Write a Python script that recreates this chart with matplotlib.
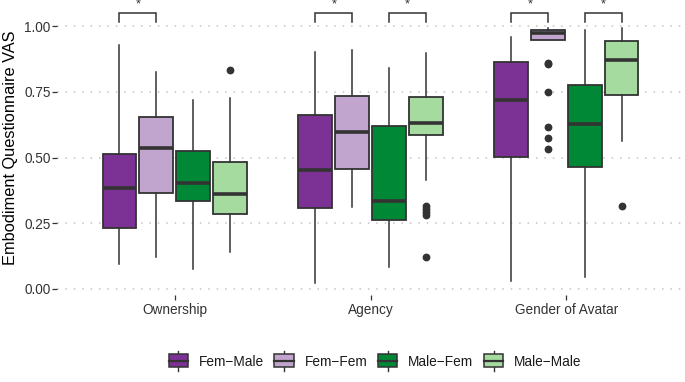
import matplotlib
matplotlib.use("Agg")
import matplotlib.pyplot as plt
from matplotlib.patches import Patch, Rectangle
from matplotlib.lines import Line2D
from matplotlib.legend_handler import HandlerBase

plt.rcParams['font.family'] = ['Liberation Sans', 'DejaVu Sans']

categories = ["Ownership", "Agency", "Gender of Avatar"]
conditions = ["Fem\u2212Male", "Fem\u2212Fem", "Male\u2212Fem", "Male\u2212Male"]
colors = ["#7B3294", "#C2A5CF", "#008837", "#A6DBA0"]

# rows: categories, cols: conditions
whisker_low = [[0.094, 0.123, 0.075, 0.142],
               [0.022, 0.313, 0.082, 0.413],
               [0.030, 0.947, 0.047, 0.564]]
q1 = [[0.233, 0.365, 0.333, 0.284],
      [0.307, 0.455, 0.262, 0.587],
      [0.503, 0.947, 0.463, 0.739]]
median = [[0.385, 0.537, 0.402, 0.360],
          [0.454, 0.597, 0.335, 0.632],
          [0.719, 0.976, 0.627, 0.873]]
q3 = [[0.513, 0.655, 0.526, 0.484],
      [0.662, 0.735, 0.620, 0.731],
      [0.863, 0.984, 0.775, 0.943]]
whisker_high = [[0.929, 0.825, 0.719, 0.727],
                [0.902, 0.909, 0.842, 0.899],
                [0.959, 0.993, 0.985, 0.993]]
outliers = [[[], [], [], [0.835]],
            [[], [], [], [0.317, 0.305, 0.293, 0.280, 0.123]],
            [[], [0.862, 0.855, 0.749, 0.616, 0.575, 0.531], [], [0.316]]]

# significance brackets: (category index, condition a, condition b, label)
sig_cat = [0, 1, 1, 2, 2]
sig_a = [0, 0, 2, 0, 2]
sig_b = [1, 1, 3, 1, 3]
sig_label = ["*", "*", "*", "*", "*"]

yticks = [0.00, 0.25, 0.50, 0.75, 1.00]
ytick_labels = ["0.00", "0.25", "0.50", "0.75", "1.00"]

W, H = 685, 382
fig = plt.figure(figsize=(W / 100, H / 100), dpi=100)
ax = fig.add_axes([57 / W, 1 - 295 / H, (684 - 57) / W, 295 / H])

edge = "#333333"
dodge = 0.1875
box_w = 0.173

for ci, cat in enumerate(categories):
    for k in range(len(conditions)):
        pos = ci + 1 + (k - 1.5) * dodge
        stats = [dict(whislo=whisker_low[ci][k], q1=q1[ci][k], med=median[ci][k],
                      q3=q3[ci][k], whishi=whisker_high[ci][k],
                      fliers=outliers[ci][k])]
        ax.bxp(stats, positions=[pos], widths=box_w, patch_artist=True,
               showcaps=False,
               boxprops=dict(facecolor=colors[k], edgecolor=edge, linewidth=1.3),
               whiskerprops=dict(color=edge, linewidth=1.1),
               medianprops=dict(color=edge, linewidth=2.6, solid_capstyle='butt'),
               flierprops=dict(marker='o', markersize=4.6, markerfacecolor=edge,
                               markeredgecolor=edge, linestyle='none'),
               zorder=3)

# significance brackets
y_bar, y_tick = 1.049, 1.018
for c, a, b, lab in zip(sig_cat, sig_a, sig_b, sig_label):
    xa = c + 1 + (a - 1.5) * dodge
    xb = c + 1 + (b - 1.5) * dodge
    ax.plot([xa, xa, xb, xb], [y_tick, y_bar, y_bar, y_tick], color=edge,
            lw=1.1, solid_joinstyle='miter', clip_on=False, zorder=4)
    ax.text((xa + xb) / 2, y_bar + 0.01, lab, ha='center', va='bottom',
            fontsize=9, color=edge)

ax.set_xlim(0.4, 3.6)
ax.set_ylim(-0.023, 1.1)
ax.set_xticks([1, 2, 3])
ax.set_xticklabels(categories)
ax.set_yticks(yticks)
ax.set_yticklabels(ytick_labels)
for s in ax.spines.values():
    s.set_visible(False)
ax.tick_params(axis='both', colors='#333333', labelsize=9.8, length=3.6, width=0.9,
               labelcolor='#333333')
ax.tick_params(axis='x', pad=2)
ax.tick_params(axis='y', pad=1)
ax.yaxis.grid(True, color='#C4C4C4', linestyle=(0, (1, 4.5)), linewidth=1.1)
ax.set_axisbelow(True)
ax.set_ylabel("Embodiment Questionnaire VAS", fontsize=11.8, color='black')
ax.yaxis.set_label_coords(-0.062, 0.5)


class BoxHandler(HandlerBase):
    def create_artists(self, legend, orig_handle, xdescent, ydescent, width,
                       height, fontsize, trans):
        fc = orig_handle.get_facecolor()
        cx = -xdescent + width / 2
        cy = -ydescent + height / 2
        bh = 9.4
        ext = 2.6
        rect = Rectangle((-xdescent, cy - bh / 2), width, bh, facecolor=fc,
                         edgecolor=edge, linewidth=1.1, transform=trans)
        med = Line2D([-xdescent, -xdescent + width], [cy, cy], color=edge,
                     linewidth=1.6, transform=trans)
        w1 = Line2D([cx, cx], [cy + bh / 2, cy + bh / 2 + ext], color=edge,
                    linewidth=1.0, transform=trans)
        w2 = Line2D([cx, cx], [cy - bh / 2, cy - bh / 2 - ext], color=edge,
                    linewidth=1.0, transform=trans)
        return [w1, w2, rect, med]


handles = [Patch(facecolor=c) for c in colors]
leg = fig.legend(handles, conditions, loc='center', ncol=4,
                 bbox_to_anchor=(375 / W, 1 - 361.5 / H), frameon=False,
                 fontsize=9.8, handler_map={Patch: BoxHandler()},
                 handlelength=1.4, handleheight=1.0, handletextpad=0.8,
                 columnspacing=0.8, borderpad=0, borderaxespad=0)
for t in leg.get_texts():
    t.set_color('#1a1a1a')

fig.savefig("out.png", dpi=100)
